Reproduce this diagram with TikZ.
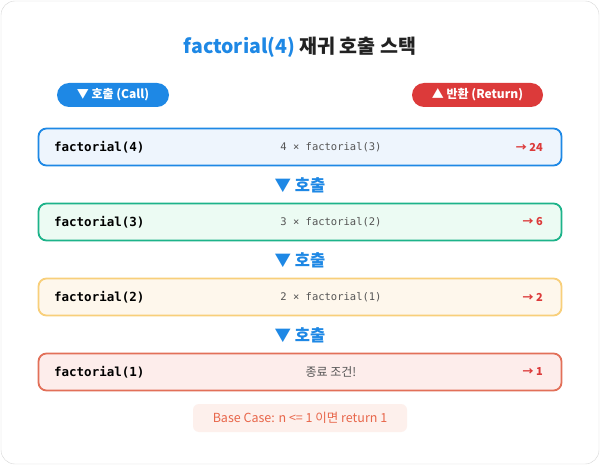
\documentclass[tikz,border=0pt]{standalone}
\usepackage{fontspec}
\setmainfont{Noto Sans CJK KR}
\setmonofont{DejaVu Sans Mono}
\usepackage{tikz}
\usetikzlibrary{positioning}

\definecolor{callblue}{HTML}{1E88E5}
\definecolor{retred}{HTML}{DC3A3A}
\definecolor{titlegray}{HTML}{222222}
\definecolor{exprgray}{HTML}{555555}
\definecolor{rowblue}{HTML}{1E88E5}
\definecolor{rowteal}{HTML}{1DB38A}
\definecolor{rowyellow}{HTML}{F8CF7A}
\definecolor{rowcoral}{HTML}{E27059}
\definecolor{fillblue}{HTML}{EEF5FD}
\definecolor{fillteal}{HTML}{ECFBF3}
\definecolor{fillyellow}{HTML}{FEF7EC}
\definecolor{fillcoral}{HTML}{FDEDEB}
\definecolor{basefill}{HTML}{FDF0EC}
\definecolor{basetext}{HTML}{E8664A}

\begin{document}
\begin{tikzpicture}[x=1pt, y=-1pt,
    pill/.style={rounded corners=12pt, minimum height=24pt, inner xsep=4pt, text=white, font=\fontsize{12}{14}\selectfont\bfseries},
    rowbox/.style={rounded corners=8pt, line width=1.8pt, minimum width=523pt, minimum height=37pt},
    callname/.style={anchor=west, font=\ttfamily\bfseries\fontsize{12.5}{14}\selectfont},
    callexpr/.style={text=exprgray, font=\ttfamily\fontsize{10.5}{12}\selectfont},
    callret/.style={anchor=east, text=retred, font=\bfseries\fontsize{11}{13}\selectfont},
    calldown/.style={text=callblue, font=\bfseries\fontsize{16.5}{18}\selectfont}]
  \useasboundingbox (0,0) rectangle (600,465);
  \draw[draw=black!16, fill=white, rounded corners=14pt] (1,1) rectangle (599,464);

  % title and legend
  \node (title) at (300,47) {\fontsize{19.5}{23}\selectfont\bfseries\textcolor{callblue}{factorial(4)} \textcolor{titlegray}{재귀 호출 스택}};
  \node[pill, fill=callblue, minimum width=112pt] (calltag) at (113,95) {▼ 호출 (Call)};
  \node[pill, fill=retred, minimum width=131pt] (rettag) at (477.5,95) {▲ 반환 (Return)};

  % stack frames
  \node[rowbox, draw=rowblue, fill=fillblue] (row4) at (300,147) {};
  \node[callname] (name4) at ([xshift=13pt]row4.west) {factorial(4)};
  \node[callexpr] (expr4) at (331,147) {4 × factorial(3)};
  \node[callret] (ret4) at ([xshift=-16pt]row4.east) {→ 24};

  \node[calldown] (down4) at (300,185) {▼ 호출};

  \node[rowbox, draw=rowteal, fill=fillteal] (row3) at (300,222) {};
  \node[callname] (name3) at ([xshift=13pt]row3.west) {factorial(3)};
  \node[callexpr] (expr3) at (331,222) {3 × factorial(2)};
  \node[callret] (ret3) at ([xshift=-16pt]row3.east) {→ 6};

  \node[calldown] (down3) at (300,260) {▼ 호출};

  \node[rowbox, draw=rowyellow, fill=fillyellow] (row2) at (300,297) {};
  \node[callname] (name2) at ([xshift=13pt]row2.west) {factorial(2)};
  \node[callexpr] (expr2) at (331,297) {2 × factorial(1)};
  \node[callret] (ret2) at ([xshift=-16pt]row2.east) {→ 2};

  \node[calldown] (down2) at (300,335) {▼ 호출};

  \node[rowbox, draw=rowcoral, fill=fillcoral] (row1) at (300,372) {};
  \node[callname] (name1) at ([xshift=13pt]row1.west) {factorial(1)};
  \node[text=exprgray, font=\fontsize{12}{14}\selectfont] (expr1) at (331,372) {종료 조건!};
  \node[callret] (ret1) at ([xshift=-16pt]row1.east) {→ 1};

  % base case note
  \node[fill=basefill, rounded corners=6pt, minimum width=214pt, minimum height=28pt, text=basetext, font=\fontsize{12.5}{14}\selectfont] (basecase) at (300,418) {Base Case: n <= 1 이면 return 1};
\end{tikzpicture}
\end{document}
